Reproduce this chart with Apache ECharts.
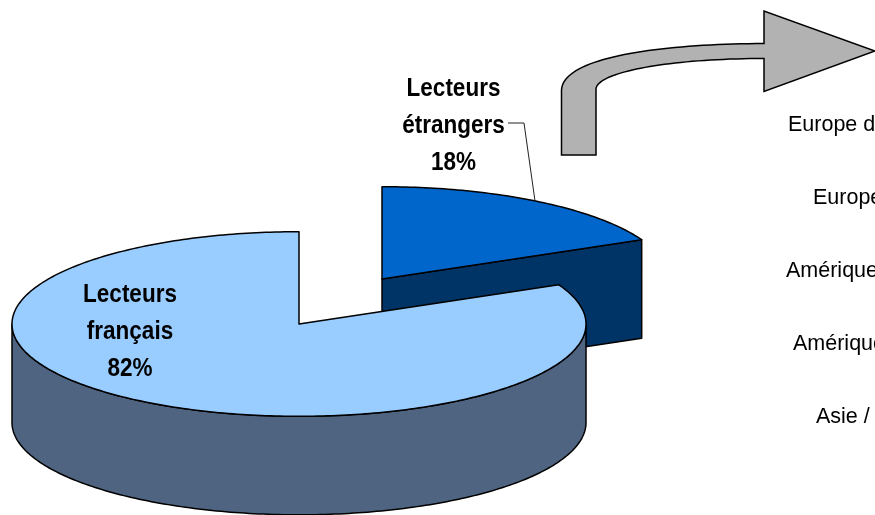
<!DOCTYPE html>
<html><head><meta charset="utf-8">
<style>html,body{margin:0;padding:0;background:#fff}#c{width:875px;height:515px}</style>
<script src="https://cdn.jsdelivr.net/npm/echarts@6/dist/echarts.min.js"></script>
</head><body><div id="c"></div>
<script>
const categories = ["Lecteurs\nétrangers", "Lecteurs\nfrançais"];
const values = [18, 82];
const sideLabels = ["Europe d", "Europe", "Amérique", "Amérique", "Asie /"];

const topColors = ["#0066CC", "#99CCFF"];
const wallColors = ["#003366", "#4F6480"];
const centers = [[382, 279], [299, 324]];
const labelPos = [[453.5, 89], [130, 295]];
const RX = 287, RY = 92.3, DEPTH = 98.5;
const total = values.reduce((a, b) => a + b, 0);
const sideX = [788, 813, 786, 793, 816];
const sideY = [125, 198, 271, 344, 417];

function rim(c, th) { return [c[0] + RX * Math.sin(th), c[1] - RY * Math.cos(th)]; }
function arcPts(c, a, b) {
  const n = Math.max(2, Math.ceil(Math.abs(b - a) * 60)), p = [];
  for (let i = 0; i <= n; i++) p.push(rim(c, a + (b - a) * i / n));
  return p;
}
function bez(p0, p1, p2, p3) {
  const out = [];
  for (let i = 0; i <= 40; i++) {
    const t = i / 40, u = 1 - t;
    out.push([0, 1].map(k => u*u*u*p0[k] + 3*u*u*t*p1[k] + 3*u*t*t*p2[k] + t*t*t*p3[k]));
  }
  return out;
}
const edge = { stroke: "#000", lineWidth: 1.5, lineJoin: "round" };

function renderItem(params, api) {
  const i = params.dataIndex, c = centers[i];
  let before = 0;
  for (let k = 0; k < i; k++) before += values[k];
  const a = before / total * 2 * Math.PI;
  const b = (before + api.value(0)) / total * 2 * Math.PI;
  const kids = [];
  const wall = pts => kids.push({ type: "polygon", shape: { points: pts },
    style: Object.assign({ fill: wallColors[i] }, edge) });
  if (a < Math.PI / 2 && b < Math.PI / 2) {
    const e = rim(c, b);
    wall([c, e, [e[0], e[1] + DEPTH], [c[0], c[1] + DEPTH]]);
  }
  const f0 = Math.max(a, Math.PI / 2), f1 = Math.min(b, 1.5 * Math.PI);
  if (f1 > f0) {
    const up = arcPts(c, f0, f1);
    const down = up.map(p => [p[0], p[1] + DEPTH]).reverse();
    wall(up.concat(down));
  }
  kids.push({ type: "polygon", shape: { points: [c].concat(arcPts(c, a, b)) },
    style: Object.assign({ fill: topColors[i] }, edge) });
  const lines = (categories[i] + "\n" + api.value(0) + "%").split("\n");
  lines.forEach((t, k) => kids.push({ type: "text", x: labelPos[i][0], y: labelPos[i][1] + k * 37, scaleX: 0.9,
    style: { text: t, textAlign: "center", textVerticalAlign: "middle", fill: "#000",
      font: "bold 25px 'Liberation Sans', Arial, sans-serif" } }));
  return { type: "group", children: kids };
}

const arrowPts = [[561.5, 155], [596, 155], [596, 89]]
  .concat(bez([596, 89], [597, 72], [670, 58.5], [764, 58.5]))
  .concat([[764, 91.5], [875, 51], [764, 11], [764, 43.5]])
  .concat(bez([764, 43.5], [660, 44], [563, 57], [561.5, 90]));

const chart = echarts.init(document.getElementById("c"), null, { renderer: "canvas" });
chart.setOption({
  animation: false,
  backgroundColor: "#fff",
  series: [{
    type: "custom", coordinateSystem: "none", renderItem,
    data: values.map((v, i) => ({ name: categories[i], value: [v] })), silent: true
  }],
  graphic: [
    { type: "polygon", z: 10, shape: { points: arrowPts },
      style: { fill: "#B2B2B2", stroke: "#000", lineWidth: 1.5 } },
    { type: "polyline", z: 10, shape: { points: [[508, 123], [524, 123], [535, 201]] },
      style: { fill: "none", stroke: "#222", lineWidth: 1 } }
  ].concat(sideLabels.map((t, i) => ({
    type: "text", z: 10, x: sideX[i], y: sideY[i],
    style: { text: t, textVerticalAlign: "middle", fill: "#000", font: "21.5px 'Liberation Sans', Arial, sans-serif" }
  })))
});
</script></body></html>
